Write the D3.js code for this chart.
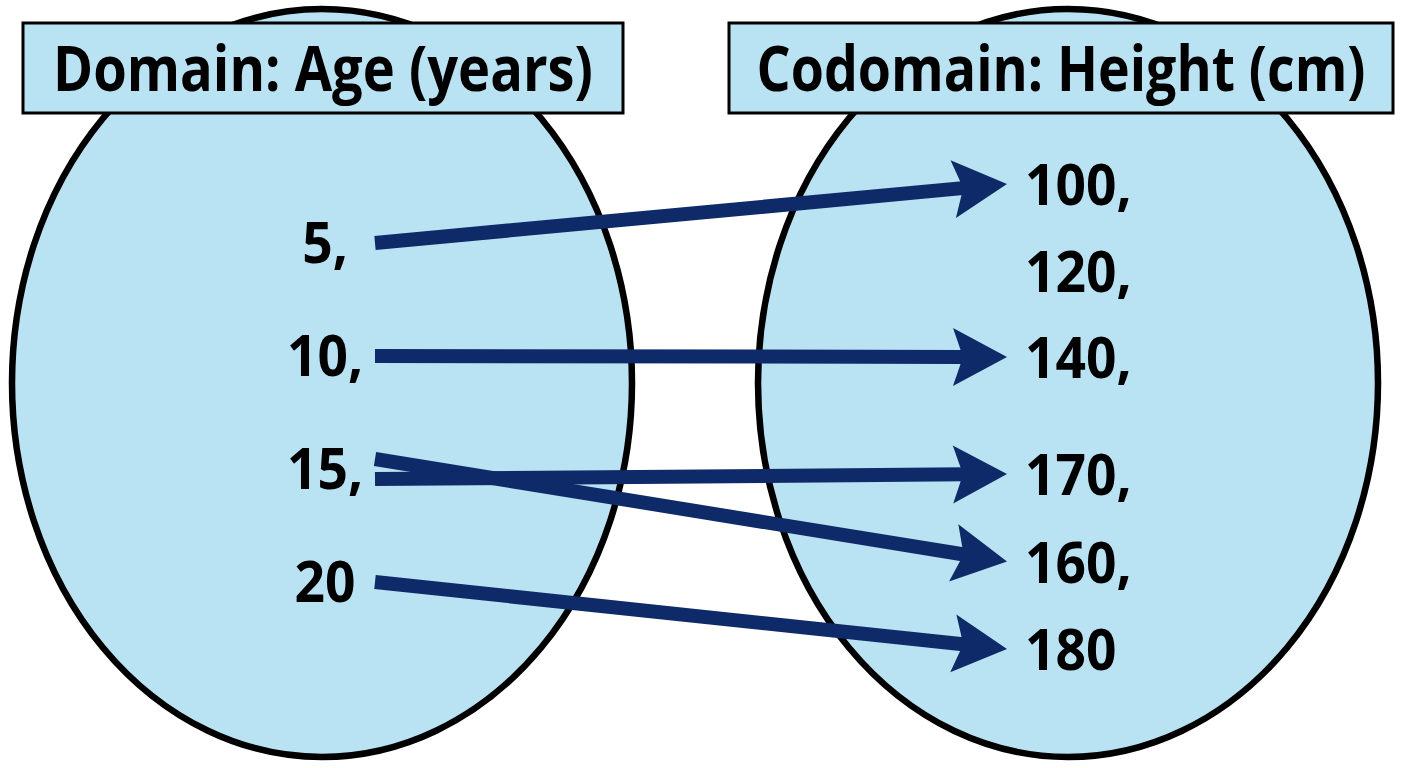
<!DOCTYPE html>
<html><head><meta charset="utf-8">
<script src="https://cdn.jsdelivr.net/npm/d3@7"></script>
<style>html,body{margin:0;padding:0;background:#fff;}svg{display:block;}</style>
</head><body>
<svg id="c" width="1408" height="768"></svg>
<script>
const domainTitle = "Domain: Age (years)";
const codomainTitle = "Codomain: Height (cm)";
const domainValues = [5, 10, 15, 20];
const domainLabels = ["5,", "10,", "15,", "20"];
const codomainValues = [100, 120, 140, 170, 160, 180];
const codomainLabels = ["100,", "120,", "140,", "170,", "160,", "180"];
const mappingFrom = [5, 10, 15, 15, 20];
const mappingTo = [100, 140, 160, 170, 180];

const svg = d3.select("#c");
const fill = "#b9e2f2", navy = "#0e2a68";
const font = "'Open Sans', 'DejaVu Sans', sans-serif";

const yLeft = d3.scalePoint().domain(domainValues).range([243, 582]);
const rightRow = d3.scaleLinear().domain([0, 2, 3, 5]).range([184, 357, 474, 649]);
const yRight = v => rightRow(codomainValues.indexOf(v));
const side = d3.scalePoint().domain(["domain", "codomain"]).range([322, 1068]);

// ellipses
svg.selectAll("ellipse.set").data(["domain", "codomain"]).join("ellipse")
  .attr("class", "set")
  .attr("cx", d => side(d)).attr("cy", 383)
  .attr("rx", 310).attr("ry", 374)
  .attr("fill", fill).attr("stroke", "#000").attr("stroke-width", 6.5);

// title boxes
const titles = [
  {key: "domain", text: domainTitle, x0: 23, x1: 623, tl: 540},
  {key: "codomain", text: codomainTitle, x0: 729, x1: 1393, tl: 609}
];
svg.selectAll("rect.title").data(titles).join("rect")
  .attr("x", d => d.x0).attr("y", 23)
  .attr("width", d => d.x1 - d.x0).attr("height", 90)
  .attr("fill", fill).attr("stroke", "#000").attr("stroke-width", 3);
svg.selectAll("text.title").data(titles).join("text")
  .attr("text-anchor", "middle")
  .attr("font-family", font).attr("font-weight", 700).attr("font-size", 62)
  .attr("fill", "#000").text(d => d.text)
  .attr("transform", function(d) {
    const w = this.getComputedTextLength();
    return `translate(${(d.x0 + d.x1) / 2},91) scale(${d.tl / w},1)`;
  });

// labels
svg.selectAll("text.dl").data(domainValues).join("text")
  .attr("transform", d => `translate(325,${yLeft(d) + 20}) scale(0.92,1)`)
  .attr("text-anchor", "middle")
  .attr("font-family", font).attr("font-weight", 700).attr("font-size", 58)
  .attr("fill", "#000").text((d, i) => domainLabels[i]);
svg.selectAll("text.cl").data(codomainValues).join("text")
  .attr("transform", d => `translate(1025,${yRight(d) + 21}) scale(0.92,1)`)
  .attr("text-anchor", "start")
  .attr("font-family", font).attr("font-weight", 700).attr("font-size", 58)
  .attr("fill", "#000").text((d, i) => codomainLabels[i]);

// arrows
const counts = d3.rollup(mappingFrom, v => v.length, d => d);
const seen = new Map();
const arrows = mappingFrom.map((f, i) => {
  const n = counts.get(f);
  const k = seen.get(f) || 0; seen.set(f, k + 1);
  const off = n > 1 ? (k - (n - 1) / 2) * 20 : 0;
  return {x1: 375, y1: yLeft(f) + off, x2: 1007, y2: yRight(mappingTo[i])};
});
const headLen = 54, headHalf = 29, notch = 10, shaft = 14;
arrows.forEach(a => {
  const dx = a.x2 - a.x1, dy = a.y2 - a.y1, L = Math.hypot(dx, dy);
  const ux = dx / L, uy = dy / L, px = -uy, py = ux;
  const bx = a.x2 - ux * headLen, by = a.y2 - uy * headLen;
  const nx = bx + ux * notch, ny = by + uy * notch;
  svg.append("line")
    .attr("x1", a.x1).attr("y1", a.y1).attr("x2", nx + ux * 2).attr("y2", ny + uy * 2)
    .attr("stroke", navy).attr("stroke-width", shaft);
  svg.append("path")
    .attr("d", d3.line()([[a.x2, a.y2], [bx + px * headHalf, by + py * headHalf], [nx, ny], [bx - px * headHalf, by - py * headHalf]]) + "Z")
    .attr("fill", navy);
});
</script>
</body></html>
